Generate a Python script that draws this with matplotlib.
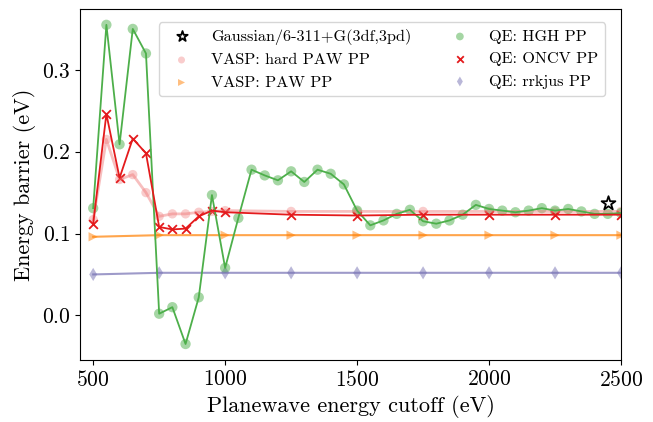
import numpy as np
import matplotlib
matplotlib.use('Agg')
import matplotlib.pyplot as plt

plt.rcParams['font.family'] = 'serif'
plt.rcParams['font.serif'] = ['cmr10']
plt.rcParams['mathtext.fontset'] = 'cm'
plt.rcParams['axes.formatter.use_mathtext'] = True
plt.rcParams['axes.unicode_minus'] = False

# HGH pseudopotential (QE), every 50 eV
hgh_cut = np.arange(500, 2501, 50)
hgh_e = [0.131, 0.355, 0.209, 0.350, 0.320, 0.002, 0.010, -0.035, 0.022, 0.147,
         0.058, 0.119, 0.178, 0.171, 0.165, 0.176, 0.163, 0.178, 0.173, 0.160,
         0.128, 0.110, 0.116, 0.124, 0.129, 0.115, 0.112, 0.116, 0.123, 0.135,
         0.130, 0.128, 0.126, 0.128, 0.131, 0.128, 0.130, 0.127, 0.124, 0.124,
         0.125]

# ONCV (QE)
oncv_cut = [500, 550, 600, 650, 700, 750, 800, 850, 900, 950, 1000,
            1250, 1500, 1750, 2000, 2250, 2500]
oncv_e = [0.112, 0.246, 0.168, 0.216, 0.198, 0.108, 0.105, 0.106, 0.121, 0.128,
          0.126, 0.123, 0.122, 0.123, 0.123, 0.123, 0.123]

# VASP hard PAW
hard_cut = [500, 550, 600, 650, 700, 750, 800, 850, 900, 950, 1000,
            1250, 1500, 1750, 2000, 2250, 2500]
hard_e = [0.117, 0.215, 0.166, 0.172, 0.150, 0.121, 0.124, 0.124, 0.126, 0.127,
          0.128, 0.127, 0.127, 0.127, 0.127, 0.127, 0.127]

# VASP PAW and QE rrkjus, every 250 eV
coarse_cut = [500, 750, 1000, 1250, 1500, 1750, 2000, 2250, 2500]
paw_e = [0.096, 0.098, 0.098, 0.098, 0.098, 0.098, 0.098, 0.098, 0.098]
rrkjus_e = [0.050, 0.052, 0.052, 0.052, 0.052, 0.052, 0.052, 0.052, 0.052]

# Gaussian reference
gauss_cut = [2450]
gauss_e = [0.137]

fig = plt.figure(figsize=(6.53, 4.22), dpi=100)
fig.subplots_adjust(left=0.1225, right=0.951, top=0.979, bottom=0.147)
ax = fig.add_subplot(1, 1, 1)

green = '#4daf4a'
red = '#e41a1c'
pink = 'lightcoral'
orange = '#ff7f00'
purple = '#7570b3'

ax.plot(hard_cut, hard_e, color=pink, lw=2.0, alpha=0.5)
ax.scatter(hard_cut, hard_e, color=pink, marker='o', s=45, alpha=0.4,
           edgecolors='none', label='VASP: hard PAW PP')
ax.plot(coarse_cut, paw_e, color=orange, lw=1.5, alpha=0.7)
ax.scatter(coarse_cut, paw_e, color=orange, marker='>', s=45, alpha=0.5,
           edgecolors='none', label='VASP: PAW PP')
ax.plot(coarse_cut, rrkjus_e, color=purple, lw=1.5, alpha=0.7)
ax.scatter(coarse_cut, rrkjus_e, color=purple, marker='d', s=45, alpha=0.5,
           edgecolors='none', label='QE: rrkjus PP')
ax.plot(hgh_cut, hgh_e, color=green, lw=1.3)
ax.scatter(hgh_cut, hgh_e, color=green, marker='o', s=55, alpha=0.5,
           edgecolors='none', label='QE: HGH PP')
ax.plot(oncv_cut, oncv_e, color=red, lw=1.3)
ax.scatter(oncv_cut, oncv_e, color=red, marker='x', s=40, lw=1.3,
           label='QE: ONCV PP')
ax.scatter(gauss_cut, gauss_e, facecolor='white', edgecolor='k', marker='*',
           s=110, lw=1.3, label='Gaussian/6-311+G(3df,3pd)', zorder=5)

ax.set_xlim(450, 2500)
ax.set_xticks([500, 1000, 1500, 2000, 2500])
ax.set_yticks([0.0, 0.1, 0.2, 0.3])
ax.tick_params(labelsize=15.5)
ax.set_xlabel('Planewave energy cutoff (eV)', fontsize=16)
ax.set_ylabel('Energy barrier (eV)', fontsize=16)

h, l = ax.get_legend_handles_labels()
order = [5, 0, 1, 3, 4, 2]
ax.legend([h[i] for i in order], [l[i] for i in order], ncol=2,
          loc='upper right', fontsize=11.7, markerscale=0.75,
          bbox_to_anchor=(0.985, 0.985))

plt.savefig('out.png', dpi=100)
